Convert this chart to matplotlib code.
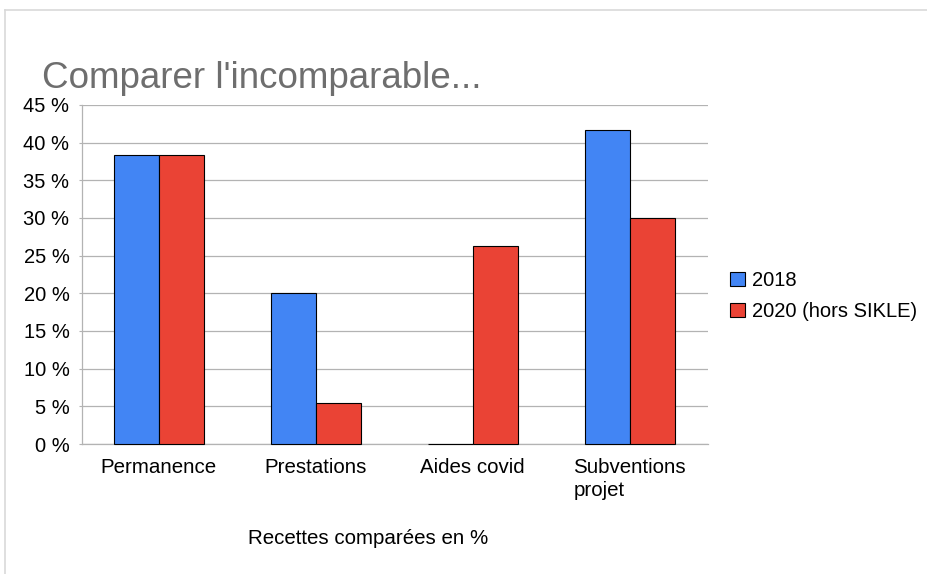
import numpy as np
import matplotlib
matplotlib.use('Agg')
import matplotlib.pyplot as plt
from matplotlib.lines import Line2D

plt.rcParams['font.family'] = ['Liberation Sans', 'DejaVu Sans']

categories = ["Permanence", "Prestations", "Aides covid", "Subventions\nprojet"]
valeurs_2018 = [38.3, 20.0, 0.0, 41.7]
valeurs_2020 = [38.3, 5.4, 26.3, 30.0]
series = ["2018", "2020 (hors SIKLE)"]
ticks_y = [0, 5, 10, 15, 20, 25, 30, 35, 40, 45]

W, H = 928, 574
fig = plt.figure(figsize=(W / 100, H / 100), dpi=100)

# cadre gris clair du graphique
fig.add_artist(Line2D([5 / W, 5 / W], [0, 1 - 10 / H], color="#d9d9d9", lw=1.2))
fig.add_artist(Line2D([5 / W, 1], [1 - 10 / H, 1 - 10 / H], color="#d9d9d9", lw=1.2))

ax = fig.add_axes([82 / W, 130 / H, 626 / W, 339 / H])

x = np.arange(len(categories))
larg = 0.287
ax.bar(x - larg / 2, valeurs_2018, larg, color="#4285f4", edgecolor="black", lw=0.8,
       label=series[0], zorder=3, clip_on=False)
ax.bar(x + larg / 2, valeurs_2020, larg, color="#ea4335", edgecolor="black", lw=0.8,
       label=series[1], zorder=3, clip_on=False)

ax.set_xlim(-0.49, 3.5)
ax.set_ylim(0, 45)
ax.set_yticks(ticks_y)
ax.set_yticklabels([f"{t} %" for t in ticks_y], fontsize=14.5)
ax.set_xticks(x)
ax.set_xticklabels(categories, fontsize=14.8, multialignment="left", linespacing=1.25)
ax.tick_params(axis="x", length=0, pad=10)
ax.tick_params(axis="y", length=2, color="#b3b3b3", pad=7)
ax.grid(axis="y", color="#b3b3b3", lw=0.9, zorder=0)
for s in ["top", "right"]:
    ax.spines[s].set_visible(False)
for s in ["left", "bottom"]:
    ax.spines[s].set_color("#b3b3b3")
    ax.spines[s].set_linewidth(0.9)

fig.text(42 / W, 1 - 78 / H, "Comparer l'incomparable...", fontsize=26.5, color="#6e6e6e", va="center", ha="left")
fig.text(368 / W, 1 - 539 / H, "Recettes comparées en %", fontsize=14.8, ha="center", va="center")

ax.legend(loc="center left", bbox_to_anchor=(722 / W, 1 - 296 / H), bbox_transform=fig.transFigure,
          frameon=False, fontsize=14.5, handlelength=0.75, handleheight=0.75, handletextpad=0.35,
          labelspacing=0.6, borderaxespad=0)

fig.savefig("out.png", dpi=100)
